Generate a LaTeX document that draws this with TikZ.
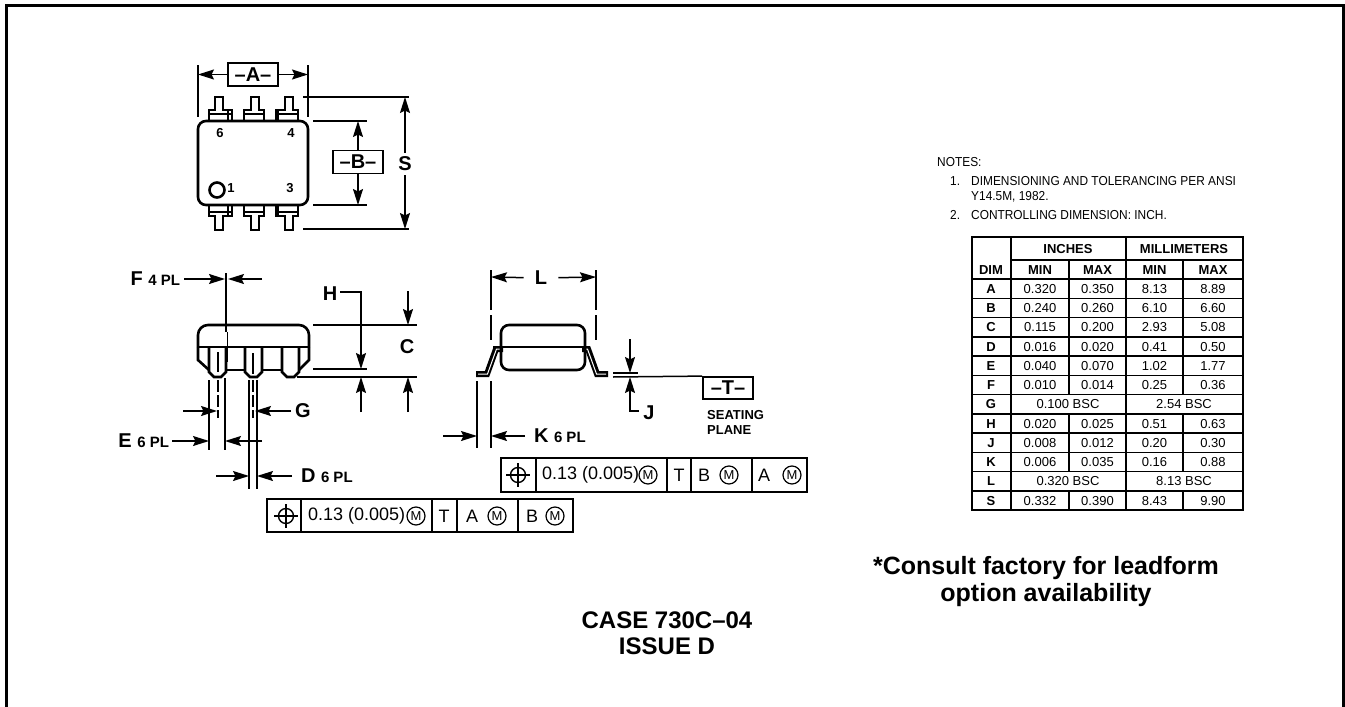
\documentclass[tikz,border=0pt]{standalone}
\usepackage{fontspec}
\setmainfont{Liberation Sans}
\newfontfamily\notefont[FakeStretch=0.915]{Liberation Sans}
\usetikzlibrary{arrows.meta}
\newcommand{\plcount}[1]{{\fontsize{15}{15}\selectfont #1 PL}}
\tikzset{
    outline/.style={line width=2.6pt},
    dimline/.style={line width=1.5pt},
    dimarrow/.style={line width=1.5pt,-{Stealth[length=16pt,width=10pt,inset=2.5pt]}},
    dimtext/.style={inner sep=0pt,font=\fontsize{20}{20}\selectfont\bfseries},
    pinnum/.style={inner sep=0pt,font=\fontsize{13}{13}\selectfont\bfseries},
    datumbox/.style={draw,line width=1.8pt,fill=white,minimum width=50pt,minimum height=23pt,inner sep=0pt,font=\fontsize{20}{20}\selectfont\bfseries},
    fcftext/.style={inner sep=0pt,font=\fontsize{18}{18}\selectfont},
    mcircle/.style={draw,circle,line width=1.2pt,minimum size=18pt,inner sep=0pt,font=\fontsize{13}{13}\selectfont},
    notetext/.style={inner sep=0pt,anchor=base west,font=\notefont\fontsize{13}{13}\selectfont},
    cell/.style={inner sep=0pt,text height=9.4pt,text depth=0pt,font=\fontsize{13}{13}\selectfont},
    cellbold/.style={cell,font=\fontsize{13}{13}\selectfont\bfseries},
    bigtext/.style={inner sep=0pt,font=\fontsize{24}{24}\selectfont\bfseries},
    consult/.style={inner sep=0pt,font=\fontsize{25}{25}\selectfont\bfseries}
}
\begin{document}
\begin{tikzpicture}[x=1pt,y=-1pt,>=latex]
    \useasboundingbox (0,0) rectangle (1345,707);
    \draw[line width=3pt] (6,707) -- (6,5.5) -- (1343.5,5.5) -- (1343.5,707);

    \draw[outline,rounded corners=8pt] (198,121) rectangle (308,205);
    \foreach \px/\wl/\wr in {219/209/232,255/244/264,289/276/298}{
        \draw[outline] (\wl,121) -- (\wl,110) -- (\px-4,110) -- (\px-4,97) -- (\px+4,97) -- (\px+4,110) -- (\wr,110) -- (\wr,121);
        \draw[outline] (\wl,205) -- (\wl,216) -- (\px-4,216) -- (\px-4,230) -- (\px+4,230) -- (\px+4,216) -- (\wr,216) -- (\wr,205);
        \draw[dimline] (\wl,114) -- (\wr,114);
        \draw[dimline] (\wl,212) -- (\wr,212);
    }
    \draw[dimline] (228,110) -- (228,121);
    \draw[dimline] (228,205) -- (228,216);
    \draw[dimline] (278,110) -- (278,121);
    \draw[dimline] (278,205) -- (278,216);
    \node[pinnum] (pinsix) at (220,133) {6};
    \node[pinnum] (pinfour) at (291,133) {4};
    \node[pinnum] (pinone) at (231,188) {1};
    \node[pinnum] (pinthree) at (290,188) {3};
    \draw[outline] (217,190) circle [radius=7.5];

    \draw[dimline] (198,65) -- (198,117);
    \draw[dimline] (308,65) -- (308,117);
    \node[datumbox] (datumA) at (253,74.5) {–A–};
    \draw[dimarrow] (datumA) -- (198,74.5);
    \draw[dimarrow] (datumA) -- (308,74.5);

    \draw[dimline] (313,121) -- (367,121);
    \draw[dimline] (313,205) -- (367,205);
    \node[datumbox] (datumB) at (358,162) {–B–};
    \draw[dimarrow] (datumB) -- (358,121);
    \draw[dimarrow] (datumB) -- (358,205);

    \draw[dimline] (303,97) -- (409,97);
    \draw[dimline] (303,229) -- (409,229);
    \node[dimtext] (lblS) at (405,164) {S};
    \draw[dimarrow,shorten <=4pt] (lblS) -- (405,97);
    \draw[dimarrow,shorten <=4pt] (lblS) -- (405,229);

    \draw[outline,rounded corners=10pt] (198,347) -- (198,325) -- (309,325) -- (309,347);
    \draw[outline] (198,347) -- (309,347);
    \draw[outline] (198,347) -- (198,360) -- (209,370);
    \draw[outline] (309,347) -- (309,360) -- (299,370);
    \foreach \pa in {209,245,282}{
        \draw[outline] (\pa,347) -- (\pa,372) -- (\pa+5,377) -- (\pa+12,377) -- (\pa+17,372) -- (\pa+17,347);
    }
    \draw[outline] (226,370) -- (245,370);
    \draw[outline] (262,370) -- (282,370);
    \draw[dimline] (218,352) -- (218,372);
    \draw[dimline] (253,353) -- (253,374);
    \draw[dimline,dash pattern=on 12pt off 3pt] (218,380) -- (218,418);
    \draw[dimline,dash pattern=on 12pt off 3pt] (253,380) -- (253,418);

    \draw[line width=1.8pt] (226,273) -- (226,332);
    \draw[dimline] (227.5,332) -- (227.5,362);
    \node[dimtext,anchor=east,outer sep=4pt] (lblF) at (184,279) {F \plcount{4}};
    \draw[dimarrow] (lblF.east) -- (225,279);
    \coordinate (fright) at (262,279);
    \draw[dimarrow] (fright) -- (228,279);

    \draw[dimline] (209,380) -- (209,450);
    \draw[dimline] (225,378) -- (225,450);
    \draw[dimline] (249,380) -- (249,489);
    \draw[dimline] (257,380) -- (257,489);
    \coordinate (gleft) at (183,411);
    \draw[dimarrow] (gleft) -- (217,411);
    \node[dimtext,outer sep=4pt] (lblG) at (303,411) {G};
    \draw[dimarrow] (lblG.west) -- (255,411);
    \node[dimtext,anchor=east,outer sep=3pt] (lblE) at (172,441) {E \plcount{6}};
    \draw[dimarrow] (lblE.east) -- (209,441);
    \coordinate (eright) at (262,441);
    \draw[dimarrow] (eright) -- (225,441);
    \coordinate (dleft) at (216,476);
    \draw[dimarrow] (dleft) -- (249,476);
    \node[dimtext,anchor=west,outer sep=9pt] (lblD) at (292,476) {D \plcount{6}};
    \draw[dimarrow] (lblD.west) -- (257,476);

    \node[dimtext] (lblH) at (330,294) {H};
    \draw[dimline] (313,369) -- (367,369);
    \draw[dimarrow] (lblH.east) ++(3,-2) -| (361,369);
    \draw[dimline] (313,325) -- (417,325);
    \draw[dimline] (297,377) -- (417,377);
    \coordinate (hlow) at (361,412);
    \draw[dimarrow] (hlow) -- (361,377);
    \node[dimtext] (lblC) at (407,347) {C};
    \coordinate (ctop) at (408,291);
    \coordinate (clow) at (408,412);
    \draw[dimarrow] (ctop) -- (408,325);
    \draw[dimarrow] (clow) -- (408,377);

    \draw[line width=6pt] (476,374) -- (487,374) -- (496,349) -- (503,349);
    \draw[line width=6pt] (608,374) -- (597,374) -- (588,349) -- (582,349);
    \draw[white,line width=1pt] (478,374) -- (487.5,374) -- (496.5,349) -- (501,349);
    \draw[white,line width=1pt] (606,374) -- (596.5,374) -- (587.5,349) -- (584,349);
    \draw[outline,rounded corners=8pt] (501,325) rectangle (585,370);
    \draw[outline] (493,347) -- (590,347);
    \foreach \lx in {491,596}{
        \draw[dimline] (\lx,270) -- (\lx,310);
        \draw[dimline] (\lx,315) -- (\lx,340);
    }
    \node[dimtext] (lblL) at (541,278) {L};
    \draw[dimarrow,shorten <=11pt] (lblL) -- (491,277);
    \draw[dimarrow,shorten <=11pt] (lblL) -- (596,277);

    \draw[dimline] (477,381) -- (477,448);
    \draw[dimline] (491,381) -- (491,448);
    \coordinate (kleft) at (443,436);
    \draw[dimarrow] (kleft) -- (477,436);
    \node[dimtext,anchor=west,outer sep=9pt] (lblK) at (525,436) {K \plcount{6}};
    \draw[dimarrow] (lblK.west) -- (491,436);

    \draw[dimline] (613,373) -- (638,373);
    \node[draw,line width=1.8pt,minimum width=50pt,minimum height=22pt,inner sep=0pt,font=\fontsize{20}{20}\selectfont\bfseries] (datumT) at (728,388) {–T–};
    \draw[dimline] (613,377) -- (datumT.north west);
    \coordinate (jtop) at (630,339);
    \draw[dimarrow] (jtop) -- (630,373);
    \node[dimtext] (lblJ) at (649,413) {J};
    \draw[dimarrow] (lblJ.west) ++(-4,-2) -| (630,377);
    \node[inner sep=0pt,align=left,anchor=north west,font=\fontsize{13}{15}\selectfont\bfseries] (lblSeat) at (707,410) {SEATING\\PLANE};

    \draw[line width=1.8pt] (501,458) rectangle (807,492);
    \foreach \vx in {536,667,691,752}{
        \draw[line width=1.8pt] (\vx,458) -- (\vx,492);
    }
    \node[draw,circle,line width=1.4pt,minimum size=15pt,inner sep=0pt] (posB) at (518,475) {};
    \draw[line width=1.4pt] (506,475) -- (530,475);
    \draw[line width=1.4pt] (518,463) -- (518,487);
    \node[fcftext,anchor=west] (tolB) at (542,475) {0.13 (0.005)};
    \node[mcircle] (mcB) at (648,475) {M};
    \node[fcftext] (refTB) at (679,475) {T};
    \node[fcftext] (refBB) at (704,475) {B};
    \node[mcircle] (mcBB) at (729,475) {M};
    \node[fcftext] (refAB) at (764,475) {A};
    \node[mcircle] (mcAB) at (792,475) {M};

    \draw[line width=1.8pt] (267,499) rectangle (573,532);
    \foreach \vx in {301,432,457,518}{
        \draw[line width=1.8pt] (\vx,499) -- (\vx,532);
    }
    \node[draw,circle,line width=1.4pt,minimum size=15pt,inner sep=0pt] (posA) at (286,516) {};
    \draw[line width=1.4pt] (274,516) -- (298,516);
    \draw[line width=1.4pt] (286,504) -- (286,528);
    \node[fcftext,anchor=west] (tolA) at (308,516) {0.13 (0.005)};
    \node[mcircle] (mcA) at (416,516) {M};
    \node[fcftext] (refTA) at (444,516) {T};
    \node[fcftext] (refAA) at (472,516) {A};
    \node[mcircle] (mcAA) at (497,516) {M};
    \node[fcftext] (refBA) at (532,516) {B};
    \node[mcircle] (mcBA) at (555,516) {M};

    \node[notetext] (noteHead) at (937,166) {NOTES:};
    \node[notetext] (noteOne) at (950,185) {1.};
    \node[notetext] (noteOneText) at (971,185) {DIMENSIONING AND TOLERANCING PER ANSI};
    \node[notetext] (noteOneMore) at (971,200) {Y14.5M, 1982.};
    \node[notetext] (noteTwo) at (950,219) {2.};
    \node[notetext] (noteTwoText) at (971,219) {CONTROLLING DIMENSION: INCH.};

    \draw[line width=2pt] (972,237) rectangle (1243,510);
    \draw[line width=1.5pt] (1011,237) -- (1011,510);
    \draw[line width=1.5pt] (1126,237) -- (1126,510);
    \draw[line width=1.5pt] (1011,260) -- (1243,260);
    \draw[line width=1.5pt] (1069,260) -- (1069,394);
    \draw[line width=1.5pt] (1069,413.5) -- (1069,471);
    \draw[line width=1.5pt] (1069,490.5) -- (1069,510);
    \draw[line width=1.5pt] (1183,260) -- (1183,394);
    \draw[line width=1.5pt] (1183,413.5) -- (1183,471);
    \draw[line width=1.5pt] (1183,490.5) -- (1183,510);
    \foreach \n in {0,...,11}{
        \draw[line width=1.5pt] (972,279+19.25*\n) -- (1243,279+19.25*\n);
    }
    \node[cellbold] (headInch) at (1068,249) {INCHES};
    \node[cellbold] (headMm) at (1184,249) {MILLIMETERS};
    \node[cellbold] (headDim) at (991,270) {DIM};
    \node[cellbold] (headMinA) at (1040,270) {MIN};
    \node[cellbold] (headMaxA) at (1097.5,270) {MAX};
    \node[cellbold] (headMinB) at (1154.5,270) {MIN};
    \node[cellbold] (headMaxB) at (1213,270) {MAX};
    \foreach \dimname/\inmin/\inmax/\mmmin/\mmmax [count=\n] in {
        A/0.320/0.350/8.13/8.89,
        B/0.240/0.260/6.10/6.60,
        C/0.115/0.200/2.93/5.08,
        D/0.016/0.020/0.41/0.50,
        E/0.040/0.070/1.02/1.77,
        F/0.010/0.014/0.25/0.36,
        H/0.020/0.025/0.51/0.63,
        J/0.008/0.012/0.20/0.30,
        K/0.006/0.035/0.16/0.88,
        S/0.332/0.390/8.43/9.90}{
        \pgfmathsetmacro{\rowy}{279+19.25*(\n-0.5+(\n>6)+(\n>9))}
        \node[cellbold] (dim\n) at (991,\rowy) {\dimname};
        \node[cell] (inmin\n) at (1040,\rowy) {\inmin};
        \node[cell] (inmax\n) at (1097.5,\rowy) {\inmax};
        \node[cell] (mmmin\n) at (1154.5,\rowy) {\mmmin};
        \node[cell] (mmmax\n) at (1213,\rowy) {\mmmax};
    }
    \node[cellbold] (dimG) at (991,404.1) {G};
    \node[cell] (inchG) at (1068,404.1) {0.100 BSC};
    \node[cell] (mmG) at (1184,404.1) {2.54 BSC};
    \node[cellbold] (dimL) at (991,481.1) {L};
    \node[cell] (inchL) at (1068,481.1) {0.320 BSC};
    \node[cell] (mmL) at (1184,481.1) {8.13 BSC};

    \node[consult] (consultA) at (1046,568.5) {*Consult factory for leadform};
    \node[consult] (consultB) at (1046,595) {option availability};
    \node[bigtext] (caseName) at (667,620) {CASE 730C–04};
    \node[bigtext] (issueName) at (667,646) {ISSUE D};
\end{tikzpicture}
\end{document}
